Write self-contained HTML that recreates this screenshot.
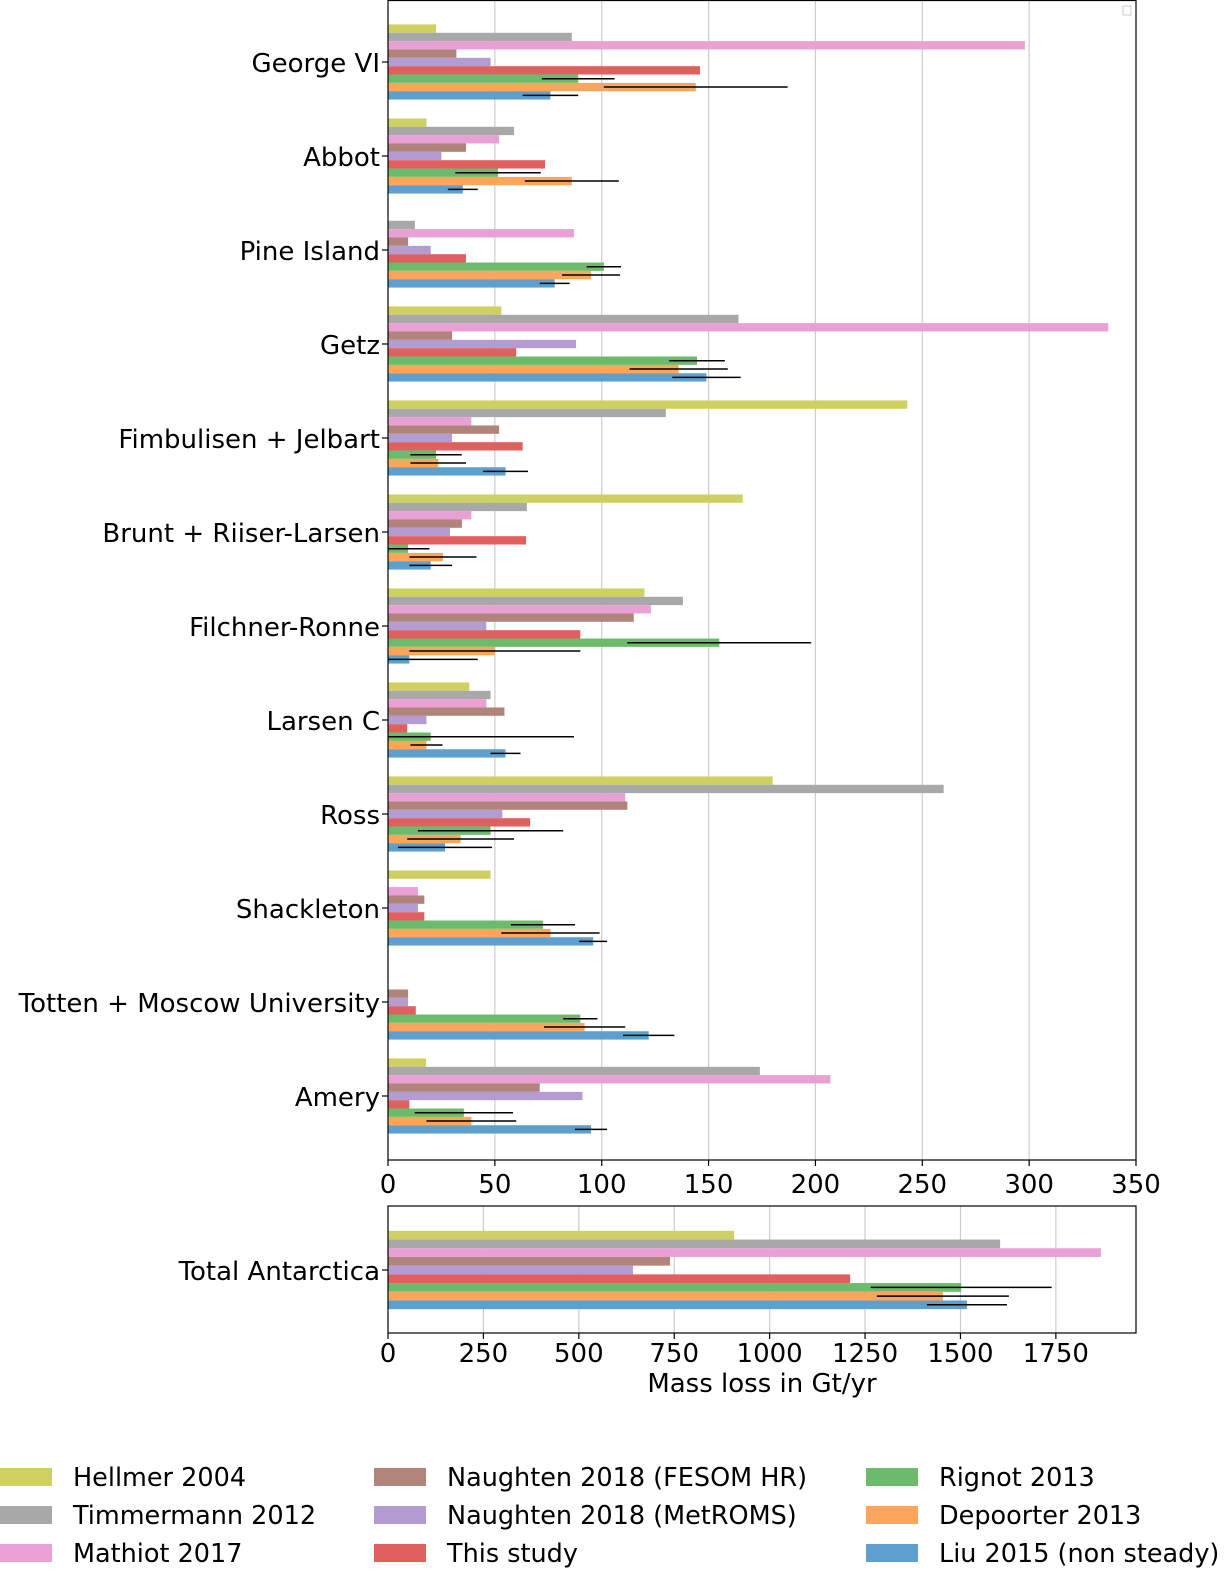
<!DOCTYPE html>
<html><head><meta charset="utf-8"><style>
body{margin:0;background:#fff;}
svg{display:block;font-family:"DejaVu Sans","Liberation Sans",sans-serif;}
</style></head><body>
<svg id="c" width="1228" height="1574" xmlns="http://www.w3.org/2000/svg"></svg>
<script>
const categories=["George VI","Abbot","Pine Island","Getz","Fimbulisen + Jelbart","Brunt + Riiser-Larsen","Filchner-Ronne","Larsen C","Ross","Shackleton","Totten + Moscow University","Amery"];
const seriesNames=["Hellmer 2004","Timmermann 2012","Mathiot 2017","Naughten 2018 (FESOM HR)","Naughten 2018 (MetROMS)","This study","Rignot 2013","Depoorter 2013","Liu 2015 (non steady)"];
const hellmer=[22.5,18,0,53,243,166,120,38,180,48,0,17.8];
const timmermann=[86,59,12.6,164,130,65,138,48,260,0,0,174];
const mathiot=[298,52,87,337,39,39,123,46,111,14,0,207];
const fesom=[32,36.5,9.4,30,52,34.6,115,54.5,112,17,9.4,71];
const metroms=[48,25,20,88,30,29,46,18,53.5,14,9.4,91];
const thisStudy=[146,73.5,36.5,60,63,64.6,90,9,66.5,17,13,10];
const rignot=[89,51.5,101,144.6,22.5,9.4,155,20,48,72.5,90,35.5];
const rignotErr=[17,20,8,13,12,10,43,67,34,15,8,23];
const depoorter=[144,86,95,136,23.5,25.7,50,18,34,76,92,39];
const depoorterErr=[43,22,13.6,23,13,15.7,40,7.5,25,23,19,21];
const liu=[76,35,78,149,55,20,10,55,26.7,96,122,95];
const liuErr=[13,7,7,16,10.5,10,32,7,22,6.5,12,7.5];
const topTicks=[0,50,100,150,200,250,300,350];
const totalCategory=["Total Antarctica"];
const totalValues=[907,1604,1868,739,642,1211,1502,1454,1517];
const totalErrs=[0,0,0,0,0,0,237,173,105];
const bottomTicks=[0,250,500,750,1000,1250,1500,1750];
const colors=["#cfd062","#a8a8a8","#e9a0d4","#b1847b","#b49bd1","#e0605f","#6cbb6c","#fea55c","#5da0cf"];

const svg=document.getElementById('c');
const NS="http://www.w3.org/2000/svg";
function mk(t,a,txt){const e=document.createElementNS(NS,t);for(const k in a)e.setAttribute(k,a[k]);if(txt!==undefined)e.textContent=txt;svg.appendChild(e);return e;}

const L=388,R=1136,T=0,B=1160;
const xTop=v=>L+v*(R-L)/350;
const yTop=i=>62+94*i;
topTicks.forEach(t=>{
 if(t>0&&t<350){const g=mk('line',{x1:xTop(t),x2:xTop(t),y1:T,y2:B,stroke:'#cccccc','stroke-width':1.2});
 }
 const tk=mk('line',{x1:xTop(t),x2:xTop(t),y1:B,y2:B+6,stroke:'#000','stroke-width':1.2});
 
 const lb=mk('text',{x:xTop(t),y:B+33,'font-size':26,'text-anchor':'middle'},String(t));
 
});
const series=[hellmer,timmermann,mathiot,fesom,metroms,thisStudy,rignot,depoorter,liu];
const errs=[null,null,null,null,null,null,rignotErr,depoorterErr,liuErr];
const bh=8.35;
categories.forEach((c,i)=>{
 const cy=yTop(i);
 const lb=mk('text',{x:380,y:cy+10,'font-size':26,'text-anchor':'end'},c);
 
 const tk=mk('line',{x1:L-6,x2:L,y1:cy,y2:cy,stroke:'#000','stroke-width':1.2});
 
 series.forEach((s,j)=>{
  const y0=cy-4.5*bh+j*bh;
  if(s[i]>0){const r=mk('rect',{x:L,y:y0,width:xTop(s[i])-L,height:bh,fill:colors[j]});
  }
  if(errs[j]){const e=errs[j][i];
   const el=mk('line',{x1:Math.max(L,xTop(s[i]-e)),x2:xTop(s[i]+e),y1:y0+bh/2,y2:y0+bh/2,stroke:'#000','stroke-width':1.5});
   }
 });
});
const f1=mk('rect',{x:L,y:T+0.5,width:R-L,height:B-T-0.5,fill:'none',stroke:'#000','stroke-width':1.2});

const lg=mk('rect',{x:1123,y:6,width:8,height:9,fill:'#fff',stroke:'#ccc','stroke-width':1});


const T2=1206,B2=1333;
const xB=v=>L+v*(R-L)/1960;
bottomTicks.forEach(t=>{
 if(t>0){const g=mk('line',{x1:xB(t),x2:xB(t),y1:T2,y2:B2,stroke:'#cccccc','stroke-width':1.2});
 }
 const tk=mk('line',{x1:xB(t),x2:xB(t),y1:B2,y2:B2+6,stroke:'#000','stroke-width':1.2});
 
 const lb=mk('text',{x:xB(t),y:B2+29,'font-size':26,'text-anchor':'middle'},String(t));
 
});
const cy2=1270,bh2=8.7;
const tl=mk('text',{x:380,y:cy2+10,'font-size':26,'text-anchor':'end'},totalCategory[0]);

const tt=mk('line',{x1:L-6,x2:L,y1:cy2,y2:cy2,stroke:'#000','stroke-width':1.2});

totalValues.forEach((v,j)=>{
 const y0=cy2-4.5*bh2+j*bh2;
 const r=mk('rect',{x:L,y:y0,width:xB(v)-L,height:bh2,fill:colors[j]});
 
 if(totalErrs[j]>0){const el=mk('line',{x1:xB(v-totalErrs[j]),x2:xB(v+totalErrs[j]),y1:y0+bh2/2,y2:y0+bh2/2,stroke:'#000','stroke-width':1.5});
 }
});
const f2=mk('rect',{x:L,y:T2,width:R-L,height:B2-T2,fill:'none',stroke:'#000','stroke-width':1.2});

const xt=mk('text',{x:762,y:1392,'font-size':26,'text-anchor':'middle'},'Mass loss in Gt/yr');


const lx=[0,374,866],ly=[1477,1515,1553];
seriesNames.forEach((n,j)=>{
 const col=Math.floor(j/3),row=j%3;
 const p=mk('rect',{x:lx[col],y:ly[row]-9,width:52,height:18,fill:colors[j]});
 
 const t=mk('text',{x:lx[col]+73,y:ly[row]+9,'font-size':25.5},n);
 
});
</script>
</body></html>
